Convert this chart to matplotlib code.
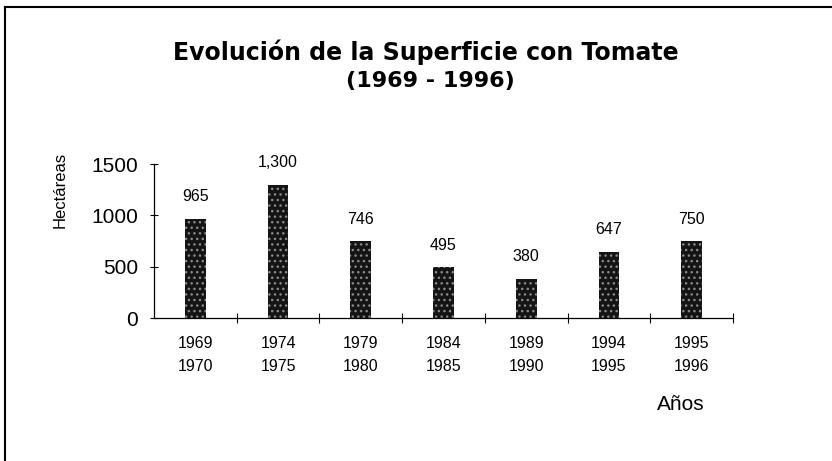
import matplotlib
matplotlib.use("Agg")
import matplotlib.pyplot as plt
from matplotlib.lines import Line2D

plt.rcParams['font.family'] = ['Liberation Sans', 'DejaVu Sans']
plt.rcParams['hatch.linewidth'] = 1.0

periods = ["1969\n1970", "1974\n1975", "1979\n1980", "1984\n1985",
           "1989\n1990", "1994\n1995", "1995\n1996"]
values = [965, 1300, 746, 495, 380, 647, 750]
value_labels = ["965", "1,300", "746", "495", "380", "647", "750"]
yticks = [0, 500, 1000, 1500]

W, H = 832, 461
fig = plt.figure(figsize=(W / 100, H / 100), dpi=100)

fx = lambda px: px / W
fy = lambda py: 1 - py / H

# outer frame (left and top edges visible)
fig.add_artist(Line2D([fx(5), fx(5)], [fy(7), fy(461)], color='black', lw=1.5,
                      transform=fig.transFigure))
fig.add_artist(Line2D([fx(5), fx(832)], [fy(7), fy(7)], color='black', lw=1.5,
                      transform=fig.transFigure))

ax = fig.add_axes([fx(154), fy(318), fx(733) - fx(154), fy(164) - fy(318)])
x = list(range(len(values)))
ax.bar(x, values, width=0.25, facecolor='#141414', edgecolor='#8a8a8a',
       hatch='...', linewidth=0, zorder=2)

for xi, v, lab in zip(x, values, value_labels):
    ax.annotate(lab, (xi, v), xytext=(0, 22), textcoords='offset pixels',
                ha='center', va='center', fontsize=11.5)

ax.set_xlim(-0.5, len(values) - 0.5)
ax.set_ylim(0, 1500)
ax.set_yticks(yticks)
ax.set_yticklabels([str(t) for t in yticks], fontsize=15)
ax.tick_params(axis='y', direction='inout', length=6, width=0.8, pad=8.5)

ax.set_xticks([i - 0.5 for i in range(1, len(values) + 1)])
ax.set_xticklabels([])
ax.set_xticks(x, minor=True)
ax.set_xticklabels(periods, minor=True, fontsize=11.5, linespacing=1.7)
ax.tick_params(axis='x', which='major', direction='inout', length=7, width=0.8)
ax.tick_params(axis='x', which='minor', length=0, pad=13)

for s in ['top', 'right']:
    ax.spines[s].set_visible(False)
ax.spines['left'].set_linewidth(0.9)
ax.spines['bottom'].set_linewidth(0.9)

fig.text(fx(426), fy(52), "Evolución de la Superficie con Tomate",
         ha='center', va='center', fontsize=17, fontweight='bold',
         family=['DejaVu Sans'])
fig.text(fx(430), fy(81), "(1969 - 1996)",
         ha='center', va='center', fontsize=16, fontweight='bold',
         family=['DejaVu Sans'])
fig.text(fx(60), fy(190), "Hectáreas", rotation=90,
         ha='center', va='center', fontsize=12)
fig.text(fx(681), fy(404), "Años", ha='center', va='center', fontsize=15)

fig.savefig("out.png", dpi=100)
